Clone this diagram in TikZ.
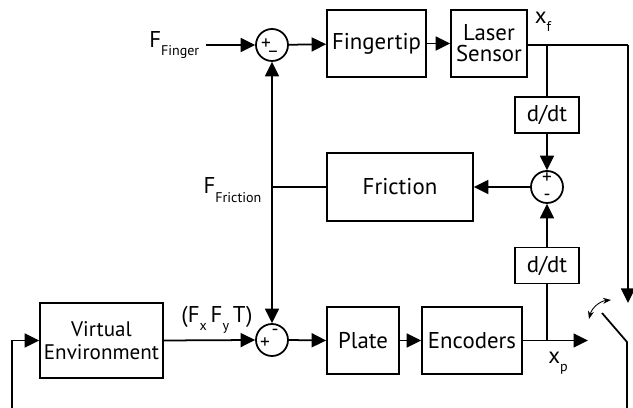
\documentclass[tikz,border=0pt]{standalone}
\usepackage{fontspec}
\setmainfont{PT Sans}
\usetikzlibrary{arrows.meta,calc,positioning}

\newcommand{\lowsub}[2]{#1\raisebox{-0.75ex}{\footnotesize #2}}

\begin{document}
\begin{tikzpicture}[
  x=0.02cm, y=-0.02cm,
  font=\fontsize{13}{14}\selectfont,
  line width=1pt,
  block/.style={draw, line width=1pt, align=center, inner sep=0pt},
  sumnode/.style={draw, circle, line width=1pt, minimum size=0.64cm, inner sep=0pt},
  sign/.style={font=\fontsize{11}{11}\selectfont, inner sep=0pt},
  arr/.style={-{Triangle[length=0.29cm, width=0.28cm]}},
  link/.style={-}
]
\useasboundingbox (0,0) rectangle (633,408);

% top row
\node[sumnode] (sumtop) at (272,45) {};
\node[block, minimum width=1.98cm, minimum height=1.34cm] (finger) at (376.5,43.5) {Fingertip};
\node[block, minimum width=1.52cm, minimum height=1.34cm] (laser) at (489,43.5) {Laser\\[-2pt]Sensor};
\node[anchor=east] (fin) at (206,45) {\lowsub{F}{Finger}};
\node (xf) at (543,22) {\lowsub{x}{f}};
\coordinate (xfsplit) at (547,45);
\coordinate (xfcorner) at (628,45);
\coordinate (swtop) at (628,303);

% middle
\node[block, minimum width=1.28cm, minimum height=0.72cm] (dttop) at (547,115) {d/dt};
\node[sumnode] (summid) at (547,187) {};
\node[block, minimum width=2.92cm, minimum height=1.36cm] (friction) at (400,187) {Friction};
\coordinate (fsplit) at (272,187);
\node[anchor=east] (ffric) at (268,190) {\lowsub{F}{Friction}};
\node[block, minimum width=1.28cm, minimum height=0.72cm] (dtlow) at (547,265.5) {d/dt};

% bottom row
\node[block, minimum width=2.46cm, minimum height=1.5cm, font=\fontsize{12}{14}\selectfont] (venv) at (101.5,340.5) {Virtual\\[-1pt]Environment};
\node[sumnode] (sumlow) at (272,340) {};
\node[block, minimum width=1.44cm, minimum height=1.34cm] (plate) at (363,340.5) {Plate};
\node[block, minimum width=2.0cm, minimum height=1.34cm] (enc) at (472,340.5) {Encoders};
\node (fxy) at (217,320) {(\lowsub{F}{x}\,\lowsub{F}{y}\,T)};
\coordinate (xpsplit) at (547,340.5);
\coordinate (xpend) at (588,340.5);
\node (xp) at (558,363) {\lowsub{x}{p}};

% switch and feedback
\coordinate (blade) at (602,313);
\coordinate (pivot) at (627,342);
\coordinate (swbot) at (627,408);
\coordinate (fbbot) at (12,408);
\coordinate (fbtop) at (12,340.5);

% signs
\node[sign] at ($(sumtop)+(-6,-1)$) {+};
\node[sign] at ($(sumtop)+(1,5)$) {\_};
\node[sign] at ($(summid)+(0,-9)$) {+};
\node[sign] at ($(summid)+(0,10)$) {-};
\node[sign] at ($(sumlow)+(-7,3)$) {+};
\node[sign] at ($(sumlow)+(3,-8)$) {-};

% connectors
\draw[arr] (fin.east |- sumtop) -- (sumtop.west);
\draw[arr] (sumtop) -- (finger);
\draw[arr] (finger) -- (laser);
\draw[link] (laser.east |- xfcorner) -- (xfcorner);
\draw[arr] (xfcorner) -- (swtop);
\draw[link] (xfsplit) -- (dttop.north);
\draw[arr] (dttop.south) -- (summid.north);
\draw[arr] (summid.west) -- (friction.east);
\draw[link] (friction.west) -- (fsplit);
\draw[arr] (fsplit) -- (sumtop.south);
\draw[arr] (fsplit) -- (sumlow.north);
\draw[arr] (dtlow.north) -- (summid.south);
\draw[arr] (venv.east) -- (sumlow.west);
\draw[arr] (sumlow.east) -- (plate.west);
\draw[arr] (plate) -- (enc);
\draw[arr] (enc.east) -- (xpend);
\draw[link] (xpsplit) -- (dtlow.south);
\draw[link] (blade) -- (pivot) -- (swbot);
\draw[{Stealth[length=1.6mm,width=1.2mm]}-{Stealth[length=1.6mm,width=1.2mm]}, line width=0.5pt]
  (589,319) to[bend left=35] (611,300);
\draw[arr] (fbbot) -- (fbtop) -- (venv.west);
\end{tikzpicture}
\end{document}
